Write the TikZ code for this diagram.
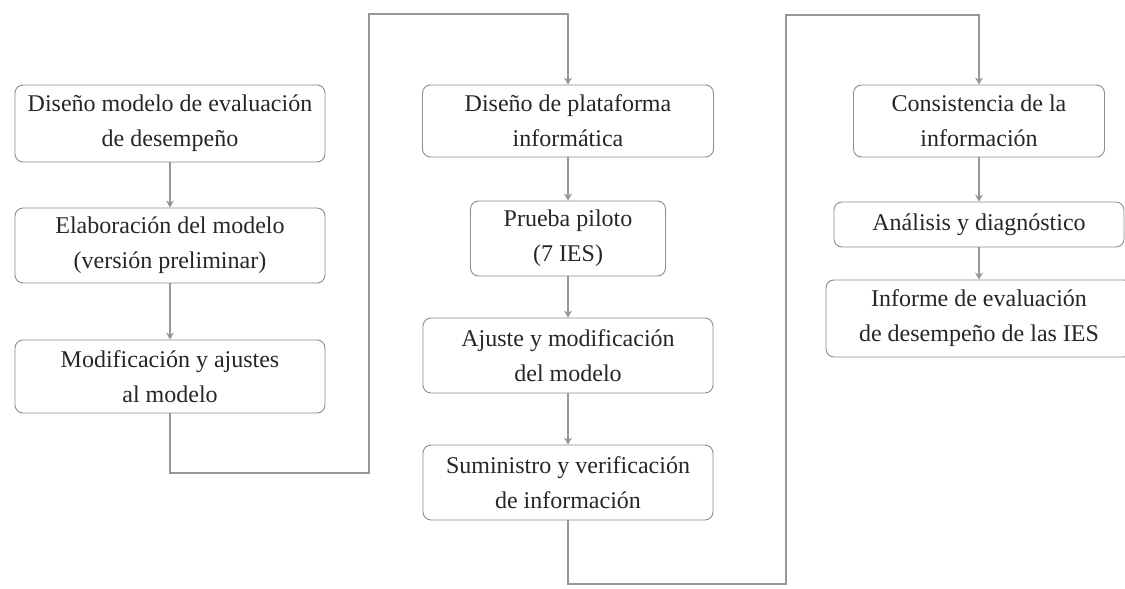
\documentclass[tikz,border=0pt]{standalone}
\usepackage{fontspec}
\setmainfont{Liberation Serif}
\usetikzlibrary{arrows.meta}
\definecolor{boxgray}{RGB}{140,140,140}
\definecolor{conngray}{RGB}{150,150,150}
\begin{document}
\begin{tikzpicture}[x=1pt,y=-1pt,
  box/.style={draw=boxgray, line width=0.9pt, rounded corners=8pt, align=center,
    font=\fontsize{24}{35}\selectfont, inner sep=0pt, text=black!85},
  conn/.style={draw=conngray, line width=2.2pt, line join=miter},
  arr/.style={conn, -{Stealth[length=7pt,width=8pt]}}]
\useasboundingbox (0,0) rectangle (1125,589);
% left column
\node[box, minimum width=310pt, minimum height=77pt] (b1) at (170,123.5) {Diseño modelo de evaluación\\de desempeño};
\node[box, minimum width=310pt, minimum height=75pt] (b2) at (170,245.5) {Elaboración del modelo\\(versión preliminar)};
\node[box, minimum width=310pt, minimum height=73pt] (b3) at (170,376.5) {Modificación y ajustes\\al modelo};
% middle column
\node[box, minimum width=291pt, minimum height=72pt] (b4) at (568,121) {Diseño de plataforma\\informática};
\node[box, minimum width=195pt, minimum height=75pt] (b5) at (568,238.5) {Prueba piloto\\(7 IES)};
\node[box, minimum width=290pt, minimum height=75pt] (b6) at (568,355.5) {Ajuste y modificación\\del modelo};
\node[box, minimum width=290pt, minimum height=75pt] (b7) at (568,482.5) {Suministro y verificación\\de información};
% right column
\node[box, minimum width=251pt, minimum height=72pt] (b8) at (979,121) {Consistencia de la\\información};
\node[box, minimum width=290pt, minimum height=45pt] (b9) at (979,224.5) {Análisis y diagnóstico};
\node[box, minimum width=306pt, minimum height=77pt] (b10) at (979,318.5) {Informe de evaluación\\de desempeño de las IES};
% arrows within columns
\draw[arr] (b1.south) -- (b2.north);
\draw[arr] (b2.south) -- (b3.north);
\draw[arr] (b4.south) -- (b5.north);
\draw[arr] (b5.south) -- (b6.north);
\draw[arr] (b6.south) -- (b7.north);
\draw[arr] (b8.south) -- (b9.north);
\draw[arr] (b9.south) -- (b10.north);
% connectors between columns
\coordinate (l1) at (369,473);
\coordinate (t1) at (369,14);
\draw[arr] (b3.south) |- (l1) -- (t1) -| (b4.north);
\coordinate (l2) at (786,584);
\coordinate (t2) at (786,15);
\draw[arr] (b7.south) |- (l2) -- (t2) -| (b8.north);
\end{tikzpicture}
\end{document}
